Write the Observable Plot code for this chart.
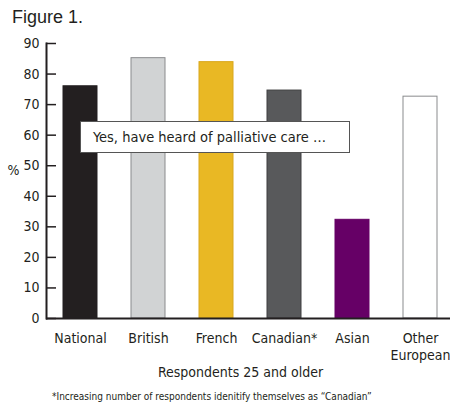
<!DOCTYPE html>
<html>
<head>
<meta charset="utf-8">
<script src="https://cdn.jsdelivr.net/npm/d3@7"></script>
<script src="https://cdn.jsdelivr.net/npm/@observablehq/plot@0.6"></script>
<style>
  body { margin: 0; background: #fff; }
  #wrap { position: relative; width: 450px; height: 402px; overflow: hidden; font-family: "Liberation Sans Narrow", "DejaVu Sans Condensed", "Liberation Sans", sans-serif; color: #231f20; }
  #title { height: 30px; padding-top: 2px; padding-left: 12px; font: 18px "Liberation Sans", Arial, sans-serif; line-height: 30px; color: #231f20; }
  #note { position: absolute; left: 80px; top: 121px; width: 268px; height: 30px; border: 1px solid #555; background: #fff; font-size: 14.5px; line-height: 30px; }
  #note span { padding-left: 12px; }
  #foot { position: absolute; left: 52px; top: 390px; font-size: 10px; line-height: 14px; white-space: nowrap; }
  svg { display: block; }
</style>
</head>
<body>
<div id="wrap">
  <div id="title">Figure 1.</div>
  <div id="chart"></div>
  <div id="note"><span>Yes, have heard of palliative care …</span></div>
  <div id="foot">*Increasing number of respondents idenitify themselves as “Canadian”</div>
</div>
<script>
// Share of respondents aged 25+ who have heard of palliative care, by group
const groups = ["National", "British", "French", "Canadian*", "Asian", "Other European"];
const percents = [76.0, 85.2, 83.9, 74.6, 32.3, 72.6];
const yTicks = [0, 10, 20, 30, 40, 50, 60, 70, 80, 90];

const groupFills = ["#231f20", "#d1d3d4", "#e9b824", "#58595b", "#660066", "#ffffff"];
const groupStrokes = ["#231f20", "#8a8b8d", "#d9a81c", "#3f3f40", "#660066", "#8a8b8d"];

const rows = groups.map((g, i) => ({group: g, pct: percents[i]}));
const fontFamily = '"Liberation Sans Narrow", "DejaVu Sans Condensed", "Liberation Sans", sans-serif';

const chart = Plot.plot({
  width: 450,
  height: 354,
  marginTop: 11,
  marginBottom: 68,
  marginLeft: 46,
  marginRight: 0,
  style: {fontFamily, fontSize: "14px", color: "#231f20", background: "#fff"},
  x: {domain: groups, range: [46, 454], paddingInner: 0.5, paddingOuter: 0.25, label: null},
  y: {domain: [0, 90], label: null},
  color: {domain: groups, range: groupFills},
  marks: [
    Plot.barY(rows, {
      x: "group", y: "pct", fill: "group",
      stroke: (d, i) => groupStrokes[i], strokeWidth: 1
    }),
    // inward-pointing y ticks
    Plot.axisY({ticks: yTicks, tickSize: 10, dx: 10, tickFormat: () => "", stroke: "#231f20", strokeWidth: 1.5, label: null}),
    Plot.axisY({ticks: yTicks, tickSize: 0, tickPadding: 7, fontSize: 14, fill: "#231f20", label: null}),
    Plot.frame({anchor: "left", stroke: "#231f20", strokeWidth: 2}),
    Plot.ruleY([0], {stroke: "#231f20", strokeWidth: 2}),
    Plot.axisX({
      tickSize: 0, tickPadding: 12, fontSize: 14, fill: "#231f20", label: null,
      tickFormat: d => d === "Other European" ? "Other\nEuropean" : d,
      lineHeight: 1.25
    }),
    Plot.text(["%"], {frameAnchor: "left", dx: -33, dy: -10, fontSize: 14, fill: "#231f20", textAnchor: "middle"}),
    Plot.text(["Respondents 25 and older"], {frameAnchor: "bottom", dy: 58, dx: -8, fontSize: 14, fill: "#231f20"})
  ]
});
document.getElementById("chart").append(chart);
</script>
</body>
</html>
